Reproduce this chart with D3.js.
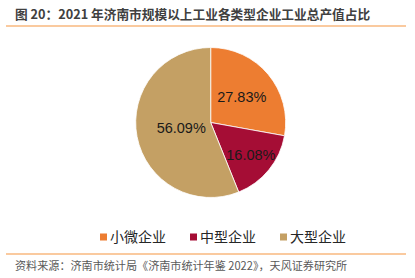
<!DOCTYPE html>
<html>
<head>
<meta charset="utf-8">
<script src="https://cdn.jsdelivr.net/npm/d3@7"></script>
<style>
  html, body { margin: 0; padding: 0; background: #fff; }
  svg { display: block; font-family: "Noto Sans CJK SC", "Liberation Sans", sans-serif; }
</style>
</head>
<body>
<div id="chart"></div>
<script>
const categories = ['小微企业', '中型企业', '大型企业'];
const shares = [27.83, 16.08, 56.09];
const colors = ['#ED7D31', '#A50D35', '#C4A064'];
const titleText = '图 20：2021 年济南市规模以上工业各类型企业工业总产值占比';
const sourceText = '资料来源：济南市统计局《济南市统计年鉴 2022》，天风证券研究所';

const width = 415, height = 278;
const cx = 210.7, cy = 122.5, radius = 75;
// label distance from centre, per slice, as fraction of radius
const labelFrac = [0.54, 0.69, 0.4];

const svg = d3.select('#chart').append('svg')
  .attr('width', width)
  .attr('height', height);

// title + rules
svg.append('text')
  .attr('x', 15).attr('y', 18.5)
  .attr('font-size', 12.7).attr('font-weight', 'bold')
  .attr('fill', '#404040')
  .text(titleText);

svg.append('line')
  .attr('x1', 6).attr('x2', 406).attr('y1', 26).attr('y2', 26)
  .attr('stroke', '#F9B97F').attr('stroke-width', 1.5);

svg.append('line')
  .attr('x1', 6).attr('x2', 406).attr('y1', 254).attr('y2', 254)
  .attr('stroke', '#F9B97F').attr('stroke-width', 1.5);

svg.append('text')
  .attr('x', 15).attr('y', 270)
  .attr('font-size', 11.1)
  .attr('fill', '#595959')
  .text(sourceText);

// pie
const data = categories.map((c, i) => ({ name: c, value: shares[i], idx: i }));
const color = d3.scaleOrdinal().domain(categories).range(colors);
const pie = d3.pie().value(d => d.value).sort(null);
const arc = d3.arc().innerRadius(0).outerRadius(radius);

const g = svg.append('g').attr('transform', `translate(${cx},${cy})`);

const arcs = pie(data);

g.selectAll('path')
  .data(arcs)
  .enter()
  .append('path')
  .attr('d', arc)
  .attr('fill', d => color(d.data.name))
  .attr('stroke', '#fff')
  .attr('stroke-width', 0.8);

g.selectAll('text.lbl')
  .data(arcs)
  .enter()
  .append('text')
  .attr('class', 'lbl')
  .attr('transform', d => {
    const r = radius * labelFrac[d.data.idx];
    const a = (d.startAngle + d.endAngle) / 2;
    return `translate(${Math.sin(a) * r},${-Math.cos(a) * r})`;
  })
  .attr('text-anchor', 'middle')
  .attr('dy', '0.36em')
  .attr('font-family', '"Liberation Sans", Arial, sans-serif')
  .attr('font-size', 14.5)
  .attr('fill', '#1a1a1a')
  .text(d => d.data.value.toFixed(2) + '%');

// legend
const legend = svg.append('g').attr('transform', 'translate(100,237)');
const item = legend.selectAll('g')
  .data(categories)
  .enter()
  .append('g')
  .attr('transform', (d, i) => `translate(${i * 90},0)`);

item.append('rect')
  .attr('x', 0).attr('y', -3.5)
  .attr('width', 7).attr('height', 7)
  .attr('fill', d => color(d));

item.append('text')
  .attr('x', 10).attr('y', 0)
  .attr('dy', '0.35em')
  .attr('font-size', 14)
  .attr('fill', '#262626')
  .text(d => d);
</script>
</body>
</html>
